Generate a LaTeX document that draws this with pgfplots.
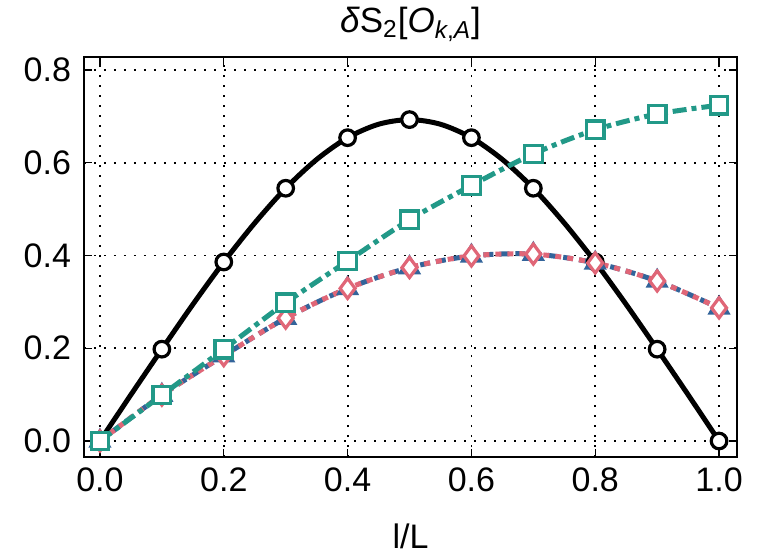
\documentclass[border=0pt]{standalone}
\usepackage{pgfplots}
\pgfplotsset{compat=1.18}
\usepackage{fontspec}
\setmainfont{Liberation Sans}
\setsansfont{Liberation Sans}
\definecolor{cteal}{HTML}{229988}
\definecolor{cpink}{HTML}{E06677}
\definecolor{cblue}{HTML}{33649A}
\begin{document}
\begin{tikzpicture}
\begin{axis}[
  scale only axis, width=326.5pt, height=200pt,
  xmin=-0.0258, xmax=1.029, ymin=-0.0345, ymax=0.828,
  xtick={0,0.2,...,1.0}, ytick={0,0.2,...,0.8},
  /pgf/number format/fixed, /pgf/number format/fixed zerofill, /pgf/number format/precision=1,
  /pgf/number format/assume math mode=true,
  tick label style={font=\fontsize{17}{20}\selectfont},
  yticklabel style={xshift=-3pt},
  xticklabel style={yshift=-2pt},
  label style={font=\fontsize{17}{20}\selectfont},
  title style={font=\fontsize{17.5}{20}\selectfont, at={(axis description cs:0.5,1)}, anchor=south, inner sep=0pt, yshift=1.5pt},
  title={\textit{δ}S\textsubscript{2}[\textit{O}\textsubscript{\textit{k},\textit{A}}]},
  xlabel={l/L},
  xlabel style={at={(axis description cs:0.5,0)}, anchor=north, inner sep=0pt, yshift=-33pt},
  grid=major, major grid style={black, dash pattern=on 1pt off 4pt, line width=0.9pt},
  tick align=inside, major tick length=4pt, tick style={black, line width=0.7pt},
  axis line style={line width=1pt},
  xtick pos=both, ytick pos=both,
  clip=false,
]
\addplot[black, line width=2.5pt, smooth] coordinates {
(0,0) (0.05,0.0998) (0.1,0.198) (0.15,0.2944) (0.2,0.386) (0.25,0.470) (0.3,0.545) (0.35,0.607) (0.4,0.654) (0.45,0.683) (0.5,0.693)
(0.55,0.683) (0.6,0.654) (0.65,0.607) (0.7,0.545) (0.75,0.470) (0.8,0.386) (0.85,0.2944) (0.9,0.198) (0.95,0.0998) (1,0)};
\addplot[only marks, mark=*, mark size=3.9pt, mark options={fill=white, draw=black, line width=1.6pt}] coordinates {
(0,0) (0.1,0.198) (0.2,0.386) (0.3,0.545) (0.4,0.654) (0.5,0.693) (0.6,0.654) (0.7,0.545) (0.8,0.386) (0.9,0.198) (1,0)};
\addplot[cblue, line width=2.5pt, smooth, dash pattern=on 5pt off 3pt, mark=triangle*, mark size=4.2pt, mark options={solid, fill=cblue}] coordinates {
(0,0) (0.1,0.099) (0.2,0.184) (0.3,0.265) (0.4,0.329) (0.5,0.374) (0.6,0.399) (0.7,0.403) (0.8,0.384) (0.9,0.345) (1,0.287)};
\addplot[cpink, line width=2.5pt, smooth, dash pattern=on 3pt off 3pt, mark=diamond*, mark size=5pt, mark options={solid, fill=white, line width=1.6pt}] coordinates {
(0,0) (0.1,0.099) (0.2,0.184) (0.3,0.265) (0.4,0.329) (0.5,0.374) (0.6,0.399) (0.7,0.403) (0.8,0.384) (0.9,0.345) (1,0.287)};
\addplot[cteal, line width=2.5pt, smooth, dash pattern=on 7pt off 2.5pt on 2.5pt off 2.5pt, mark=square*, mark size=4.4pt, mark options={solid, fill=white, line width=1.6pt}] coordinates {
(0,0) (0.1,0.099) (0.2,0.198) (0.3,0.298) (0.4,0.388) (0.5,0.477) (0.6,0.551) (0.7,0.619) (0.8,0.671) (0.9,0.705) (1,0.724)};
\end{axis}
\path (current axis.south west) ++(-42pt,-48pt) rectangle ++(379.5pt,276.5pt);
\end{tikzpicture}
\end{document}
